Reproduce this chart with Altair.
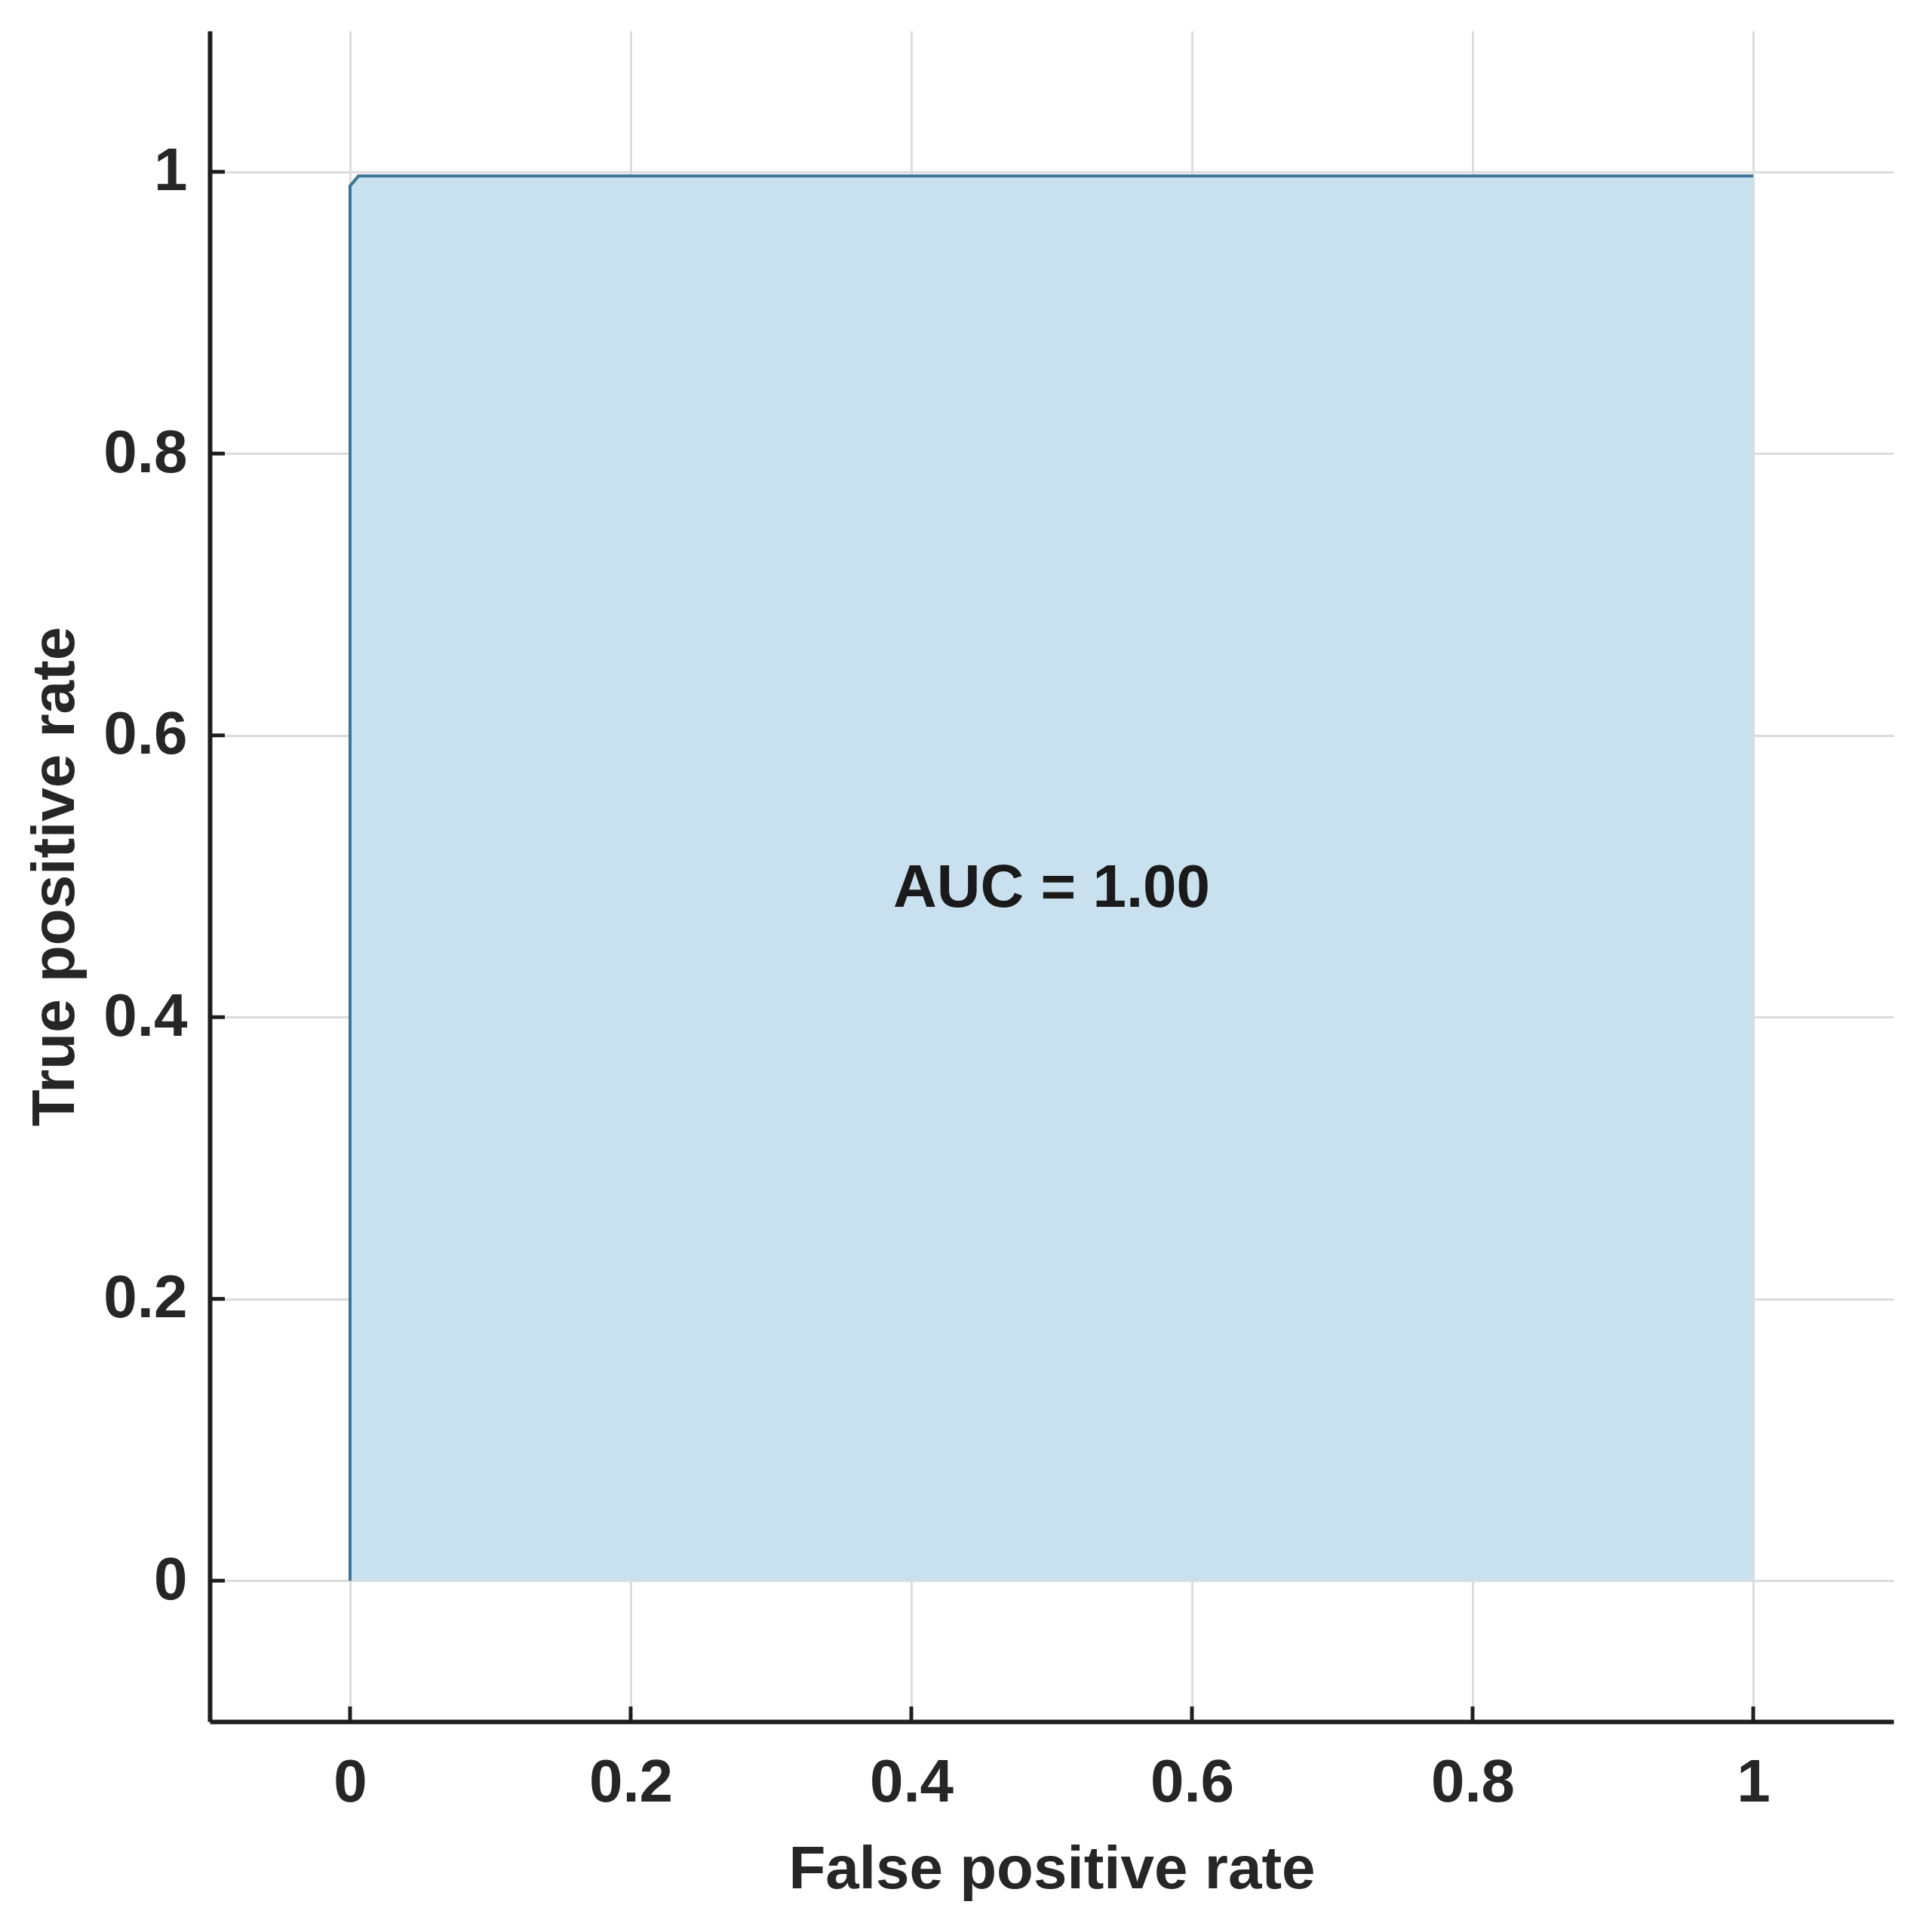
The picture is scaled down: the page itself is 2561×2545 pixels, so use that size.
import altair as alt
import pandas as pd

# ROC curve readings
fpr = [0.0, 0.0, 0.006, 1.0]
tpr = [0.0, 0.99, 0.997, 0.997]
tick_values = [0, 0.2, 0.4, 0.6, 0.8, 1]
auc_label = ["AUC = 1.00"]
auc_x = [0.5]
auc_y = [0.491]

roc = pd.DataFrame({"fpr": fpr, "tpr": tpr})
ticks_df = pd.DataFrame({"v": tick_values})
label_df = pd.DataFrame({"x": auc_x, "y": auc_y, "label": auc_label})

W, H = 2232, 2241
FONT = "Liberation Sans"
TXT = "#262626"
FS = 80

xs = alt.Scale(domain=[-0.1, 1.1], nice=False, zero=False)
ys = alt.Scale(domain=[-0.1, 1.1], nice=False, zero=False)

common = dict(
    values=tick_values, format="~g", grid=True, gridColor="#dcdcdc", gridWidth=3,
    ticks=False, domainColor="#1e1e1e", domainWidth=6,
    labelFont=FONT, labelFontSize=FS, labelFontWeight="bold", labelColor=TXT,
    titleFont=FONT, titleFontSize=FS, titleFontWeight="bold", titleColor=TXT,
)
xaxis = alt.Axis(title="False positive rate", labelPadding=42, titlePadding=36, **common)
yaxis = alt.Axis(title="True positive rate", labelPadding=30, titlePadding=22, **common)

X = lambda f: alt.X(f, scale=xs, axis=xaxis)
Y = lambda f: alt.Y(f, scale=ys, axis=yaxis)

area = alt.Chart(roc).mark_area(color="#c9e0ee", opacity=1).encode(x=X("fpr:Q"), y=Y("tpr:Q"))
line = alt.Chart(roc).mark_line(color="#3a7696", strokeWidth=4).encode(x=X("fpr:Q"), y=Y("tpr:Q"))

xticks = alt.Chart(ticks_df).mark_rule(color="#1e1e1e", strokeWidth=5).encode(
    x=X("v:Q"), y=alt.value(H), y2=alt.value(H - 20))
yticks = alt.Chart(ticks_df).mark_rule(color="#1e1e1e", strokeWidth=5).encode(
    y=Y("v:Q"), x=alt.value(0), x2=alt.value(20))

text = alt.Chart(label_df).mark_text(
    font=FONT, fontSize=FS, fontWeight="bold", color="#1a1a1a", baseline="middle", align="center"
).encode(x=X("x:Q"), y=Y("y:Q"), text="label:N")

chart = alt.layer(area, line, xticks, yticks, text).properties(
    width=W, height=H,
    autosize=alt.AutoSizeParams(type="none"),
    padding={"left": 270, "top": 33, "right": 43, "bottom": 255},
    background="white",
).configure_view(stroke=None)

chart.save("out.html", embed_options={"renderer": "svg", "actions": False})
